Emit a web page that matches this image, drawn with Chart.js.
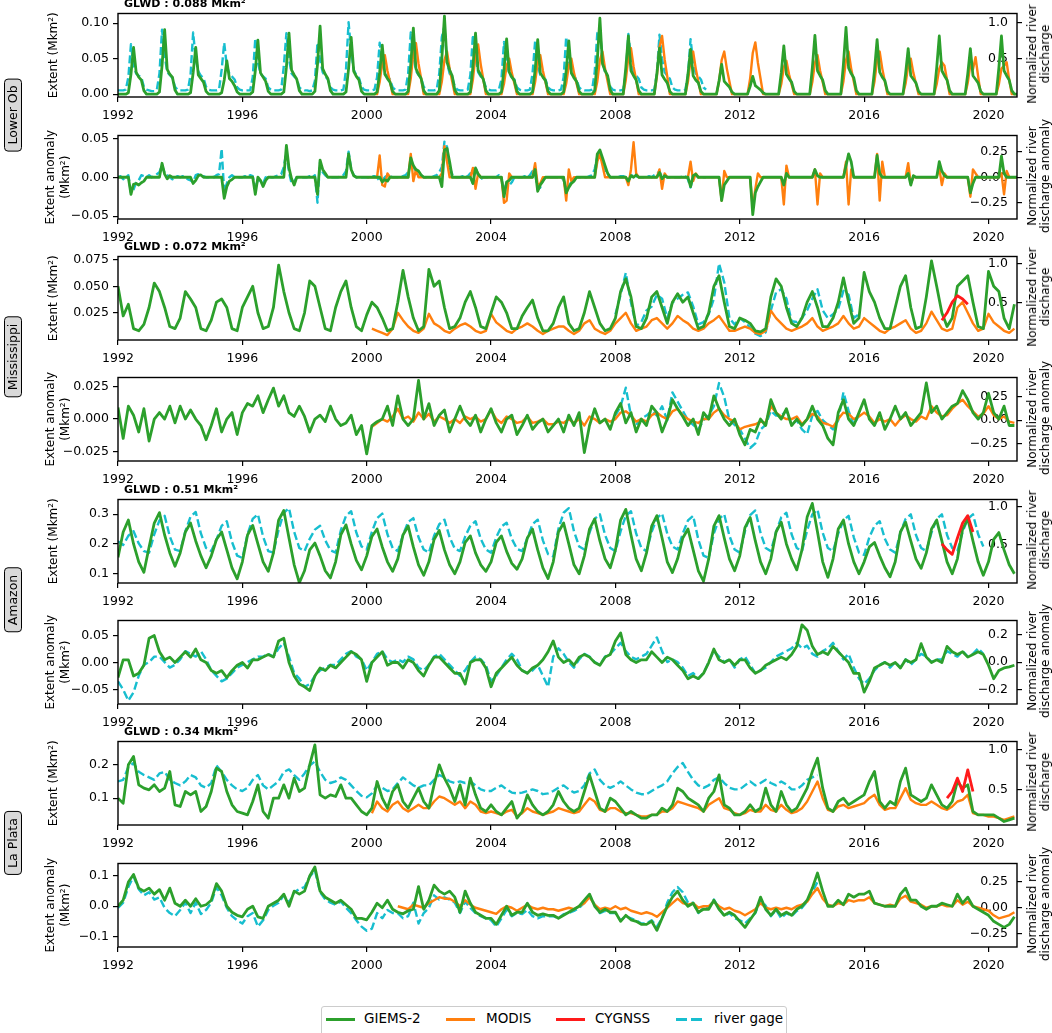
<!DOCTYPE html>
<html>
<head>
<meta charset="utf-8">
<script src="https://cdn.jsdelivr.net/npm/chart.js@4.4.0/dist/chart.umd.min.js"></script>
<style>
  body { margin: 0; background: #fff; width: 1052px; height: 1033px; position: relative; overflow: hidden; font-family: "DejaVu Sans", sans-serif; }
  canvas { position: absolute; left: 0; }
  .glwd { position: absolute; left: 124px; font-size: 11px; font-weight: bold; line-height: 13px; white-space: nowrap; }
  .group { position: absolute; left: 12.5px; transform: translate(-50%, -50%) rotate(-90deg); background: #d9d9d9; border: 1.5px solid #000; border-radius: 4px; padding: 1px 6px; font-size: 12.5px; line-height: 14px; white-space: nowrap; }
  .rtitle { position: absolute; left: 1039px; transform: translate(-50%, -50%) rotate(-90deg); font-size: 12px; line-height: 13px; text-align: center; white-space: nowrap; }
  #legend { position: absolute; left: 321px; top: 1006px; width: 466px; height: 30px; border: 1px solid #ccc; border-radius: 3px; box-sizing: border-box; }
  #legend .ln { position: absolute; top: 11px; width: 29px; height: 3px; }
  #legend .tx { position: absolute; top: 3px; font-size: 13.5px; line-height: 16px; white-space: nowrap; }
</style>
</head>
<body>
<div id="legend">
  <div class="ln" style="left:4px;background:#2ca02c"></div><div class="tx" style="left:42px">GIEMS-2</div>
  <div class="ln" style="left:124px;background:#ff7f0e"></div><div class="tx" style="left:164px">MODIS</div>
  <div class="ln" style="left:234px;background:#ff1a1a"></div><div class="tx" style="left:273px">CYGNSS</div>
  <div class="ln" style="left:354px;width:11px;background:#17becf"></div><div class="ln" style="left:369px;width:11px;background:#17becf"></div><div class="tx" style="left:392px">river gage</div>
</div>
<script>
// x ticks
const yearTicks = [1992, 1996, 2000, 2004, 2008, 2012, 2016, 2020];

// ---------- Lower Ob : extent, monthly (Mkm2) ----------
const obExtGiems = [
  0,0,0,0,0.002,0.028,0.066,0.031,0.024,0.020,0.005,0,
  0,0,0,0,0.003,0.040,0.091,0.035,0.028,0.024,0.006,0,
  0,0,0,0,0.002,0.030,0.066,0.027,0.022,0.017,0.004,0,
  0,0,0,0,0.002,0.020,0.047,0.022,0.018,0.012,0.003,0,
  0,0,0,0,0.003,0.033,0.076,0.030,0.024,0.018,0.004,0,
  0,0,0,0,0.003,0.038,0.086,0.034,0.027,0.021,0.005,0,
  0,0,0,0,0.004,0.042,0.096,0.036,0.028,0.022,0.005,0,
  0,0,0,0,0.003,0.036,0.080,0.032,0.025,0.020,0.004,0,
  0,0,0,0,0.003,0.031,0.069,0.028,0.022,0.017,0.004,0,
  0,0,0,0,0.004,0.042,0.093,0.036,0.028,0.022,0.005,0,
  0,0,0,0,0.005,0.050,0.110,0.045,0.034,0.026,0.006,0,
  0,0,0,0,0.003,0.039,0.086,0.034,0.027,0.021,0.005,0,
  0,0,0,0,0.003,0.035,0.078,0.031,0.024,0.019,0.004,0,
  0,0,0,0,0.003,0.034,0.077,0.030,0.024,0.019,0.004,0,
  0,0,0,0,0.003,0.033,0.075,0.030,0.023,0.018,0.004,0,
  0,0,0,0,0.005,0.048,0.107,0.043,0.033,0.026,0.006,0,
  0,0,0,0,0.037,0.082,0.033,0.026,0.020,0.005,0,0,
  0,0,0,0,0.029,0.065,0.027,0.021,0.016,0.004,0,0,
  0,0,0,0,0.028,0.063,0.026,0.020,0.016,0.004,0,0,
  0,0,0,0,0.019,0.042,0.018,0.014,0.010,0.003,0,0,
  0,0,0,0,0.011,0.025,0.012,0.009,0.006,0.002,0,0,
  0,0,0,0,0.030,0.068,0.028,0.022,0.017,0.004,0,0,
  0,0,0,0,0.037,0.083,0.033,0.026,0.020,0.005,0,0,
  0,0,0,0,0.042,0.094,0.037,0.029,0.023,0.005,0,0,
  0,0,0,0,0.034,0.077,0.031,0.024,0.019,0.004,0,0,
  0,0,0,0,0.029,0.064,0.026,0.021,0.016,0.004,0,0,
  0,0,0,0,0.037,0.082,0.033,0.026,0.020,0.005,0,0,
  0,0,0,0,0.029,0.064,0.026,0.021,0.016,0.004,0,0,
  0,0,0,0,0.037,0.082,0.033,0.026,0.020,0.005,0,0
];
const obExtModis = [ // from Jan 2000
  0,0,0,0,0,0.017,0.044,0.055,0.033,0.017,0,0,
  0,0,0,0,0,0.022,0.058,0.072,0.043,0.022,0,0,
  0,0,0,0,0,0.018,0.048,0.060,0.036,0.018,0,0,
  0,0,0,0,0,0.021,0.056,0.070,0.042,0.021,0,0,
  0,0,0,0,0,0.015,0.040,0.050,0.030,0.015,0,0,
  0,0,0,0,0,0.017,0.044,0.055,0.033,0.017,0,0,
  0,0,0,0,0,0.015,0.040,0.050,0.030,0.015,0,0,
  0,0,0,0,0,0.018,0.048,0.060,0.036,0.018,0,0,
  0,0,0,0,0.020,0.052,0.065,0.039,0.020,0,0,0,
  0,0,0,0,0.025,0.066,0.082,0.049,0.025,0,0,0,
  0,0,0,0,0.018,0.048,0.060,0.036,0.018,0,0,0,
  0,0,0,0,0.018,0.048,0.060,0.036,0.018,0,0,0,
  0,0,0,0,0.022,0.058,0.073,0.044,0.022,0,0,0,
  0,0,0,0,0.014,0.038,0.047,0.028,0.014,0,0,0,
  0,0,0,0,0.017,0.044,0.055,0.033,0.017,0,0,0,
  0,0,0,0,0.018,0.048,0.060,0.036,0.018,0,0,0,
  0,0,0,0,0.018,0.048,0.060,0.036,0.018,0,0,0,
  0,0,0,0,0.015,0.040,0.050,0.030,0.015,0,0,0,
  0,0,0,0,0.014,0.036,0.045,0.040,0.020,0,0,0,
  0,0,0,0,0.016,0.042,0.035,0.052,0.025,0,0,0,
  0,0,0,0,0.014,0.036,0.040,0.045,0.020,0,0,0
];
const obExtGage = [ // normalized, from Jan 1992
  0.07,0.07,0.07,0.08,0.25,0.70,0.42,0.30,0.27,0.25,0.12,0.08,
  0.07,0.06,0.06,0.08,0.30,0.90,0.55,0.32,0.28,0.24,0.12,0.08,
  0.07,0.07,0.07,0.08,0.28,0.86,0.50,0.33,0.27,0.24,0.12,0.08,
  0.07,0.07,0.07,0.08,0.35,0.72,0.40,0.30,0.26,0.22,0.11,0.08,
  0.07,0.07,0.07,0.07,0.25,0.78,0.45,0.30,0.26,0.23,0.11,0.08,
  0.07,0.07,0.07,0.08,0.40,0.85,0.50,0.30,0.26,0.23,0.11,0.08,
  0.07,0.07,0.06,0.07,0.20,0.72,0.48,0.32,0.26,0.22,0.11,0.08,
  0.07,0.07,0.07,0.08,0.35,1.00,0.60,0.35,0.28,0.24,0.12,0.08,
  0.07,0.07,0.07,0.08,0.25,0.72,0.45,0.30,0.26,0.22,0.11,0.08,
  0.07,0.07,0.07,0.08,0.30,0.86,0.55,0.34,0.28,0.24,0.12,0.08,
  0.07,0.07,0.07,0.08,0.30,0.80,0.95,0.45,0.30,0.25,0.12,0.08,
  0.07,0.07,0.07,0.08,0.28,0.83,0.52,0.32,0.26,0.22,0.11,0.08,
  0.07,0.07,0.07,0.08,0.22,0.73,0.45,0.30,0.25,0.22,0.11,0.08,
  0.07,0.07,0.07,0.08,0.30,0.74,0.42,0.28,0.25,0.22,0.11,0.08,
  0.07,0.07,0.07,0.08,0.25,0.80,0.48,0.30,0.26,0.22,0.11,0.08,
  0.07,0.07,0.07,0.08,0.32,0.85,0.90,0.48,0.32,0.25,0.12,0.08,
  0.07,0.07,0.07,0.08,0.30,0.84,0.50,0.32,0.27,0.23,0.11,0.08,
  0.07,0.07,0.07,0.08,0.30,0.83,0.50,0.32,0.27,0.23,0.11,0.08,
  0.07,0.07,0.07,0.08,0.28,0.77,0.45,0.30,0.26,0.22,0.11,0.08
];

// ---------- Lower Ob : anomaly, monthly ----------
const obAnomGiems = [
  0,0,0,0,0,-0.022,-0.009,-0.008,-0.010,-0.007,-0.005,0,
  0,0,0,0,0,0.018,0.004,-0.002,0.002,0,0,0,
  0,0,0,0,0,-0.008,-0.004,0.002,0.003,0,0,0,
  0,0,0,0,0,-0.027,-0.012,-0.005,-0.003,0,0,0,
  0,0,0,0,0,-0.022,0,-0.004,-0.012,-0.004,0,0,
  0,0,0,0,0,0.041,0.012,-0.002,-0.010,0,0,0,
  0,0,0,0,0,-0.022,0.022,0.010,0.005,0,0,0,
  0,0,0,0,0,0.030,0.010,0.002,0,0,0,0,
  0,0,0,0,0,0,-0.006,-0.003,-0.005,0,0,0,
  0,0,0,0,0,0.025,0.015,0.010,0.008,0.003,0,0,
  0,0,0,0,0,-0.012,0.035,0.037,0.020,0,0,0,
  0,0,0,0,0,-0.008,0.012,0.004,0,0,0,0,
  0,0,0,0,0,-0.025,-0.006,-0.004,0,0,0,0,
  0,0,0,0,0,0.010,-0.018,-0.010,-0.005,0,0,0,
  0,0,0,0,0,-0.020,-0.013,-0.008,-0.005,0,0,0,
  0,0,0,0,0,0.030,0.035,0.025,0.015,0.005,0,0,
  0,0,0,0,0,-0.005,0.002,0,0.003,0,0,0,
  0,0,0,0,0,0.006,-0.002,0.002,0,0,0,0,
  0,0,0,0,0,-0.012,0.002,0.004,0,0,0,0,
  0,0,0,0,0,-0.030,-0.010,-0.005,0,0,0,0,
  0,0,0,0,0,-0.048,-0.020,-0.012,-0.006,0,0,0,
  0,0,0,0,0,-0.010,0.005,0,0,0,0,0,
  0,0,0,0,0,0.010,0.002,0,0,0,0,0,
  0,0,0,0,0,0.015,0.030,0.020,0,0,0,0,
  0,0,0,0,0,0.028,0.005,0,0,0,0,0,
  0,0,0,0,0,0.005,-0.010,0.002,0,0,0,0,
  0,0,0,0,0,0.020,0.008,0.002,0,0,0,0,
  0,0,0,0,0,-0.020,-0.008,0,0,0,0,0,
  0,0,0,0,0,0.027,0.005,0,0,0,0,0
];
const obAnomModis = [ // from Jan 2000
  0,0,0,0,0,0.028,-0.010,-0.012,0.005,0,0,0,
  0,0,0,0,0,0.030,-0.005,0.010,0,0,0,0,
  0,0,0,0,0,0.005,0.040,0.020,0,0,0,0,
  0,0,0,0,0,0.012,-0.015,0.005,0,0,0,0,
  0,0,0,0,0,-0.033,-0.030,0.005,0,0,0,0,
  0,0,0,0,0,0.018,-0.010,-0.008,0,0,0,0,
  0,0,0,0,0,-0.030,0.010,-0.005,0,0,0,0,
  0,0,0,0,0,0.020,0.030,0.015,0,0,0,0,
  0,0,0,0,0,-0.010,0.010,0.045,0.005,0,0,0,
  0,0,0,0,0,0.010,-0.015,0.005,0,0,0,0,
  0,0,0,0,0,0.020,-0.005,0.005,0,0,0,0,
  0,0,0,0,0,-0.030,0.008,0,0,0,0,0,
  0,0,0,0,0,-0.040,-0.015,0.005,0,0,0,0,
  0,0,0,0,0,-0.035,0.015,0,0,0,0,0,
  0,0,0,0,0,0.010,-0.035,0.005,0,0,0,0,
  0,0,0,0,0,0.020,-0.035,0.010,0,0,0,0,
  0,0,0,0,0,0.030,-0.030,0.020,0,0,0,0,
  0,0,0,0,0,0.018,-0.008,0,0,0,0,0,
  0,0,0,0,0,0.012,-0.010,0.005,0,0,0,0,
  0,0,0,0,0,-0.025,0.010,0.005,0,0,0,0,
  0,0,0,0,0,0.005,-0.022,0.008,0,0,0,0
];
const obAnomGage = [ // from Jan 1992
  0,0.01,-0.02,0,0.02,-0.15,-0.12,-0.05,-0.03,0.02,0.01,0,
  0.02,0,0.01,0.03,0.05,0.12,0.04,0.02,0,-0.02,0,0.01,
  0,0.01,0,-0.02,-0.03,-0.05,0.02,0.03,0,0.01,0,0,
  0.01,0,0.02,0.03,0.28,-0.15,-0.06,0,0.02,0,0,0,
  0,0.01,0,0.02,0.01,-0.12,-0.02,-0.04,-0.06,0,0.01,0,
  0,0.01,0.02,0.03,0.10,0.25,0.05,-0.06,-0.04,0,0,0,
  0,0,0.01,0,0.02,-0.25,0.15,0.05,0.02,0,0,0,
  0,0,0.01,0.02,0.06,0.25,0.08,0.02,0,0,0,0,
  0,0,0.01,0.01,0,-0.04,-0.03,0,0.02,0.01,0,0,
  0,0,0.01,0.02,0.05,0.15,0.10,0.06,0.03,0.02,0,0,
  0,0,0.01,0.02,0.05,0.10,0.35,0.30,0.10,0.03,0,0,
  0,0.01,0,0.01,0.04,-0.06,0.10,0.02,-0.02,0,0,0,
  0,0,0,0.02,-0.02,-0.12,-0.06,-0.08,-0.05,0,0,0,
  0,0.01,0,0.02,0.06,0.04,-0.12,-0.10,-0.03,0,0,0,
  0,0,0,0.01,-0.03,-0.10,-0.08,-0.05,-0.02,0,0,0,
  0,0,0.01,0.02,0.08,0.20,0.25,0.15,0.08,0.03,0,0,
  0,0,0.01,0.01,0,-0.03,0.02,0.01,0.01,0,0,0,
  0,0.01,0,0.02,0.03,0.06,0,0.02,0,0,0,0,
  0,0,0.01,0.01,-0.02,-0.10,0.01,0.02,0,0,0,0
];

// ---------- Mississippi : extent, every 2 months (Jan, Mar, May, Jul, Sep, Nov) ----------
const msExtGiems = [
  0.050,0.022,0.033,0.010,0.008,0.014,
  0.030,0.053,0.045,0.030,0.012,0.010,
  0.020,0.045,0.038,0.030,0.010,0.008,
  0.018,0.035,0.038,0.030,0.010,0.008,
  0.030,0.040,0.050,0.025,0.010,0.012,
  0.030,0.070,0.045,0.025,0.010,0.008,
  0.025,0.055,0.050,0.030,0.010,0.008,
  0.030,0.045,0.055,0.030,0.012,0.008,
  0.023,0.035,0.030,0.020,0.008,0.010,
  0.035,0.065,0.040,0.020,0.008,0.012,
  0.066,0.050,0.055,0.030,0.010,0.012,
  0.020,0.035,0.045,0.030,0.012,0.010,
  0.025,0.040,0.035,0.025,0.010,0.010,
  0.022,0.030,0.037,0.020,0.008,0.008,
  0.015,0.030,0.040,0.015,0.008,0.010,
  0.025,0.045,0.030,0.015,0.008,0.010,
  0.020,0.045,0.057,0.040,0.012,0.010,
  0.020,0.040,0.045,0.030,0.015,0.035,
  0.043,0.035,0.040,0.025,0.010,0.012,
  0.025,0.050,0.060,0.035,0.012,0.010,
  0.020,0.018,0.015,0.008,0.007,0.010,
  0.040,0.057,0.050,0.030,0.015,0.012,
  0.020,0.035,0.045,0.030,0.012,0.012,
  0.020,0.035,0.058,0.035,0.015,0.020,
  0.063,0.045,0.035,0.020,0.010,0.010,
  0.030,0.050,0.060,0.030,0.010,0.012,
  0.040,0.074,0.050,0.025,0.012,0.020,
  0.050,0.055,0.060,0.035,0.012,0.010,
  0.064,0.050,0.045,0.020,0.010,0.033
];
const msExtModis = [ // from Mar 2000
  0.010,0.008,0.006,0.004,0.010,
  0.025,0.018,0.012,0.008,0.006,0.010,
  0.024,0.015,0.012,0.008,0.006,0.010,
  0.013,0.015,0.012,0.008,0.006,0.008,
  0.024,0.016,0.012,0.008,0.006,0.010,
  0.012,0.015,0.012,0.008,0.005,0.008,
  0.010,0.012,0.012,0.008,0.005,0.008,
  0.015,0.018,0.010,0.007,0.005,0.008,
  0.015,0.020,0.025,0.015,0.008,0.010,
  0.012,0.018,0.020,0.015,0.010,0.015,
  0.022,0.018,0.015,0.010,0.008,0.010,
  0.015,0.018,0.022,0.015,0.008,0.008,
  0.010,0.012,0.010,0.006,0.005,0.008,
  0.027,0.020,0.015,0.010,0.008,0.010,
  0.012,0.015,0.020,0.012,0.008,0.010,
  0.012,0.015,0.022,0.015,0.010,0.012,
  0.020,0.016,0.012,0.008,0.006,0.010,
  0.012,0.015,0.018,0.010,0.006,0.008,
  0.015,0.026,0.018,0.010,0.008,0.010,
  0.030,0.035,0.025,0.015,0.008,0.010,
  0.024,0.016,0.012,0.008,0.006,0.010
];
const msExtCygnss = [0.018, 0.025, 0.035, 0.041, 0.038, 0.033]; // from Jul 2018
const msExtGage = [ // from Jan 2008
  0.35,0.60,0.88,0.50,0.20,0.25,
  0.40,0.45,0.60,0.55,0.30,0.50,
  0.55,0.60,0.63,0.45,0.22,0.25,
  0.35,0.55,1.00,0.76,0.30,0.22,
  0.30,0.25,0.18,0.10,0.07,0.12,
  0.40,0.63,0.67,0.55,0.26,0.25,
  0.30,0.40,0.55,0.67,0.40,0.30,
  0.35,0.42,0.65,0.60,0.30,0.35
];

// ---------- Mississippi : anomaly ----------
const msAnomGiems = [
  0.009,-0.015,0.010,0.003,-0.010,0.008,
  -0.017,0.000,0.005,0.000,0.010,-0.003,
  0.010,0.000,0.007,0.000,-0.005,-0.016,
  -0.005,0.008,-0.010,0.000,0.005,-0.012,
  0.005,0.012,0.010,0.018,0.005,0.015,
  0.024,0.010,0.018,0.005,0.002,0.010,
  0.002,-0.010,0.000,0.003,-0.002,0.010,
  0.000,-0.005,-0.003,0.003,-0.012,-0.005,
  -0.027,-0.005,-0.002,0.000,0.010,-0.005,
  0.018,0.000,-0.005,0.000,0.030,0.000,
  0.012,-0.005,0.003,0.007,-0.010,0.000,
  0.010,0.000,-0.005,0.003,-0.010,0.000,
  0.008,-0.003,-0.010,0.000,0.003,-0.012,
  -0.005,0.003,-0.008,-0.003,0.000,-0.010,
  -0.005,0.000,-0.010,0.003,-0.005,0.005,
  -0.026,-0.005,0.008,-0.003,0.000,-0.008,
  0.005,0.012,-0.003,0.005,-0.010,0.000,
  -0.005,0.010,0.005,-0.010,0.000,0.015,
  0.008,0.002,-0.005,0.000,-0.012,0.005,
  0.000,0.018,0.008,0.000,-0.005,0.000,
  -0.012,-0.020,-0.008,-0.010,0.000,-0.005,
  0.015,0.005,0.000,0.008,-0.005,0.000,
  -0.005,0.000,0.010,0.000,-0.005,-0.015,
  -0.020,0.005,0.015,0.000,-0.005,0.005,
  0.015,0.000,-0.005,0.005,-0.008,0.000,
  0.010,0.000,0.005,-0.005,0.000,0.005,
  0.028,0.005,0.010,0.000,0.005,0.010,
  0.012,0.022,0.015,0.005,0.000,0.005,
  0.020,0.005,0.000,0.010,-0.005,-0.005
];
const msAnomModis = [ // from Mar 2000
  -0.006,-0.003,0.000,-0.002,0.002,
  0.008,0.000,0.002,-0.002,0.005,0.000,
  0.004,-0.002,0.002,0.000,-0.003,0.000,
  -0.003,0.002,0.000,0.002,-0.002,0.000,
  0.007,0.000,-0.003,0.002,0.000,-0.003,
  -0.002,0.002,-0.003,-0.002,0.000,-0.004,
  -0.004,-0.002,-0.003,0.000,-0.003,0.000,
  -0.005,0.002,0.000,-0.003,0.000,-0.002,
  0.000,0.005,0.006,0.003,-0.002,0.000,
  -0.002,0.003,0.005,0.002,0.000,0.006,
  0.008,0.003,0.000,-0.002,-0.003,0.000,
  0.000,0.005,0.008,0.003,0.000,-0.002,
  -0.008,-0.006,-0.005,-0.004,-0.002,-0.003,
  0.010,0.005,0.002,0.000,0.000,0.002,
  -0.004,0.000,0.004,0.002,-0.003,-0.004,
  -0.006,0.000,0.005,0.004,0.000,0.002,
  0.005,0.002,-0.003,0.000,-0.002,0.000,
  -0.005,0.000,0.003,0.000,-0.002,0.002,
  0.000,0.010,0.005,0.002,0.003,0.008,
  0.012,0.015,0.010,0.006,0.002,0.004,
  0.010,0.003,0.000,0.002,-0.002,-0.003
];
const msAnomGage = [ // from Jan 2008
  0.05,0.15,0.35,0.05,-0.05,0.02,
  0.05,0.10,0.05,0.15,0.00,0.30,
  0.20,0.10,0.00,-0.05,-0.10,0.00,
  0.05,0.15,0.40,0.25,0.00,-0.05,
  -0.10,-0.20,-0.30,-0.25,-0.10,-0.05,
  0.10,0.05,0.05,0.10,-0.05,0.00,
  -0.10,-0.15,0.05,0.10,0.00,-0.05,
  -0.10,0.00,0.30,0.10,-0.05,0.05
];

// ---------- Amazon : extent ----------
const amExtGiems = [
  0.155,0.240,0.280,0.200,0.140,0.105,
  0.190,0.270,0.305,0.230,0.170,0.125,
  0.170,0.240,0.270,0.210,0.160,0.120,
  0.160,0.215,0.240,0.180,0.120,0.083,
  0.140,0.230,0.262,0.200,0.140,0.108,
  0.170,0.280,0.312,0.220,0.130,0.070,
  0.110,0.180,0.203,0.160,0.110,0.086,
  0.140,0.230,0.264,0.200,0.145,0.113,
  0.160,0.225,0.250,0.190,0.140,0.108,
  0.150,0.230,0.260,0.190,0.130,0.095,
  0.140,0.215,0.245,0.180,0.130,0.100,
  0.140,0.205,0.227,0.170,0.130,0.108,
  0.140,0.205,0.227,0.175,0.135,0.115,
  0.150,0.220,0.249,0.180,0.120,0.084,
  0.140,0.240,0.270,0.200,0.130,0.100,
  0.160,0.250,0.284,0.210,0.150,0.120,
  0.180,0.280,0.316,0.230,0.150,0.110,
  0.170,0.260,0.295,0.220,0.140,0.104,
  0.150,0.220,0.250,0.180,0.110,0.075,
  0.150,0.260,0.295,0.220,0.150,0.110,
  0.160,0.255,0.289,0.210,0.140,0.100,
  0.150,0.240,0.273,0.200,0.150,0.113,
  0.180,0.290,0.336,0.240,0.140,0.088,
  0.150,0.250,0.280,0.200,0.140,0.100,
  0.140,0.190,0.205,0.160,0.120,0.090,
  0.140,0.240,0.273,0.210,0.150,0.118,
  0.170,0.250,0.280,0.210,0.140,0.100,
  0.150,0.250,0.285,0.210,0.140,0.095,
  0.140,0.215,0.238,0.180,0.130,0.100
];
const amExtCygnss = [0.200, 0.180, 0.165, 0.220, 0.270, 0.295, 0.240]; // from Jul 2018
const amExtGage = [ // from Jan 1992
  0.55,0.50,0.62,0.68,0.52,0.42,
  0.40,0.64,0.82,0.88,0.61,0.44,
  0.42,0.68,0.87,0.93,0.65,0.46,
  0.42,0.57,0.75,0.81,0.54,0.36,
  0.33,0.64,0.84,0.90,0.61,0.42,
  0.40,0.70,0.92,0.98,0.67,0.46,
  0.42,0.58,0.70,0.75,0.56,0.43,
  0.40,0.69,0.88,0.94,0.66,0.48,
  0.44,0.67,0.85,0.91,0.64,0.46,
  0.42,0.63,0.80,0.85,0.60,0.44,
  0.40,0.62,0.77,0.83,0.60,0.45,
  0.42,0.61,0.75,0.81,0.58,0.44,
  0.40,0.60,0.74,0.79,0.58,0.45,
  0.42,0.59,0.77,0.83,0.56,0.38,
  0.35,0.71,0.92,0.98,0.68,0.48,
  0.44,0.66,0.84,0.90,0.63,0.46,
  0.42,0.68,0.88,0.94,0.65,0.46,
  0.42,0.67,0.85,0.91,0.65,0.48,
  0.44,0.65,0.82,0.88,0.57,0.36,
  0.33,0.65,0.84,0.90,0.62,0.44,
  0.40,0.68,0.89,0.95,0.66,0.46,
  0.42,0.67,0.86,0.92,0.64,0.46,
  0.42,0.69,0.90,0.96,0.66,0.46,
  0.42,0.65,0.82,0.88,0.60,0.40,
  0.37,0.60,0.75,0.81,0.58,0.44,
  0.40,0.66,0.84,0.90,0.63,0.46,
  0.42,0.66,0.84,0.90,0.63,0.46,
  0.42,0.67,0.84,0.90,0.64,0.48
];

// ---------- Amazon : anomaly ----------
const amAnomGiems = [
  -0.028,0.005,0.005,-0.025,-0.020,-0.005,
  0.045,0.050,0.020,0.005,0.010,0.000,
  0.010,0.020,0.010,0.025,0.005,0.000,
  -0.015,-0.020,-0.015,-0.028,-0.015,-0.005,
  0.000,-0.010,0.005,0.005,0.010,0.015,
  0.010,0.040,0.045,0.000,-0.025,-0.040,
  -0.045,-0.052,-0.025,-0.010,-0.015,-0.005,
  -0.010,0.000,0.010,0.020,0.015,0.005,
  -0.035,0.000,0.010,0.020,-0.005,0.000,
  0.000,-0.010,0.005,0.000,-0.015,-0.025,
  -0.005,0.010,0.010,0.000,-0.010,-0.020,
  -0.020,-0.040,0.000,0.005,0.005,-0.010,
  -0.045,-0.020,-0.010,0.000,0.010,-0.005,
  -0.015,-0.020,-0.010,-0.005,0.005,0.020,
  0.040,0.010,0.000,0.005,-0.005,0.010,
  0.015,0.010,0.000,-0.005,0.010,0.015,
  0.040,0.055,0.015,0.005,0.000,0.005,
  0.005,0.020,0.010,0.000,0.010,0.005,
  -0.005,-0.015,-0.030,-0.025,-0.030,-0.020,
  0.000,0.025,0.005,0.000,0.005,-0.005,
  0.005,0.005,-0.010,-0.020,-0.015,-0.005,
  0.000,0.005,0.010,0.005,0.015,0.030,
  0.070,0.060,0.030,0.015,0.020,0.015,
  0.030,0.020,0.010,0.000,-0.020,-0.020,
  -0.055,-0.035,-0.010,-0.005,0.000,-0.005,
  0.000,-0.010,0.005,0.000,0.005,0.035,
  0.010,0.000,0.005,0.000,0.030,0.020,
  0.015,0.020,0.010,0.015,0.020,0.015,
  -0.005,-0.030,-0.015,-0.010,-0.008,-0.005
];
const amAnomGage = [ // from Jan 1992
  -0.14,-0.20,-0.28,-0.22,-0.10,-0.02,
  0.00,0.04,0.04,0.00,-0.04,-0.02,
  0.02,0.08,0.06,0.04,0.08,0.02,
  -0.06,-0.10,-0.14,-0.12,-0.08,-0.04,
  -0.02,0.00,0.02,0.04,0.04,0.06,
  0.04,0.10,0.14,0.04,-0.08,-0.12,
  -0.18,-0.16,-0.10,-0.06,-0.04,-0.02,
  -0.02,0.02,0.06,0.08,0.04,0.02,
  -0.06,0.00,0.06,0.08,0.02,0.00,
  0.02,0.00,0.04,0.02,-0.04,-0.06,
  -0.02,0.04,0.06,0.02,-0.02,-0.06,
  -0.10,-0.06,0.00,0.04,0.02,-0.02,
  -0.14,-0.10,-0.04,0.02,0.06,0.02,
  -0.06,-0.08,-0.06,-0.02,-0.10,-0.18,
  0.04,0.10,0.06,0.00,-0.04,0.02,
  0.06,0.04,0.00,-0.02,0.04,0.06,
  0.10,0.14,0.08,0.04,0.02,0.04,
  0.06,0.12,0.18,0.08,0.00,0.02,
  0.00,-0.04,-0.10,-0.08,-0.12,-0.08,
  0.00,0.08,0.04,0.00,0.02,-0.04,
  0.02,0.04,-0.02,-0.08,-0.06,-0.04,
  0.00,0.04,0.06,0.08,0.10,0.14,
  0.10,0.12,0.06,0.04,0.08,0.10,
  0.14,0.08,0.02,0.06,-0.04,-0.12,
  -0.16,-0.12,-0.06,-0.02,0.00,-0.04,
  0.00,-0.04,0.02,-0.02,0.02,0.06,
  0.04,0.00,0.02,0.02,0.08,0.06,
  0.04,0.08,0.04,0.06,0.10,0.06
];

// ---------- La Plata : extent ----------
const lpExtGiems = [
  0.100,0.085,0.200,0.225,0.140,0.130,
  0.125,0.140,0.120,0.130,0.180,0.080,
  0.075,0.120,0.110,0.120,0.060,0.075,
  0.120,0.190,0.180,0.120,0.080,0.060,
  0.055,0.050,0.090,0.140,0.060,0.040,
  0.100,0.100,0.140,0.100,0.160,0.120,
  0.130,0.200,0.260,0.110,0.100,0.110,
  0.105,0.140,0.100,0.100,0.080,0.060,
  0.050,0.070,0.150,0.100,0.070,0.120,
  0.140,0.090,0.070,0.100,0.130,0.090,
  0.070,0.140,0.200,0.160,0.130,0.090,
  0.140,0.080,0.160,0.110,0.070,0.060,
  0.080,0.060,0.050,0.070,0.090,0.040,
  0.060,0.110,0.080,0.060,0.050,0.060,
  0.080,0.120,0.090,0.070,0.060,0.070,
  0.120,0.170,0.120,0.070,0.060,0.100,
  0.090,0.070,0.050,0.060,0.050,0.040,
  0.040,0.050,0.050,0.070,0.060,0.080,
  0.130,0.120,0.100,0.090,0.080,0.060,
  0.100,0.120,0.170,0.080,0.070,0.050,
  0.050,0.060,0.080,0.060,0.070,0.130,
  0.080,0.060,0.120,0.080,0.060,0.070,
  0.100,0.130,0.180,0.220,0.130,0.070,
  0.060,0.090,0.100,0.080,0.090,0.100,
  0.110,0.150,0.180,0.090,0.070,0.090,
  0.080,0.150,0.190,0.110,0.100,0.090,
  0.100,0.140,0.110,0.080,0.070,0.090,
  0.150,0.130,0.140,0.060,0.050,0.050,
  0.050,0.050,0.040,0.030,0.035,0.040
];
const lpExtModis = [ // from Mar 2000
  0.055,0.090,0.070,0.060,0.080,
  0.090,0.070,0.060,0.070,0.080,0.070,
  0.070,0.090,0.105,0.100,0.090,0.080,
  0.090,0.070,0.090,0.080,0.060,0.055,
  0.060,0.055,0.050,0.060,0.065,0.045,
  0.055,0.070,0.060,0.055,0.050,0.055,
  0.060,0.070,0.065,0.060,0.055,0.060,
  0.080,0.100,0.090,0.065,0.060,0.070,
  0.070,0.060,0.055,0.055,0.050,0.045,
  0.045,0.050,0.050,0.060,0.060,0.070,
  0.090,0.085,0.080,0.075,0.070,0.060,
  0.080,0.090,0.100,0.070,0.065,0.055,
  0.050,0.055,0.065,0.060,0.060,0.080,
  0.065,0.060,0.080,0.065,0.055,0.060,
  0.070,0.090,0.120,0.150,0.100,0.065,
  0.060,0.075,0.080,0.070,0.075,0.080,
  0.085,0.100,0.110,0.080,0.065,0.070,
  0.070,0.100,0.130,0.095,0.085,0.080,
  0.080,0.090,0.080,0.070,0.065,0.075,
  0.090,0.095,0.110,0.055,0.050,0.050,
  0.045,0.045,0.040,0.035,0.040,0.045
];
const lpExtCygnss = [0.100, 0.120, 0.160, 0.120, 0.185, 0.120]; // from Sep 2018
const lpExtGage = [ // from Jan 1992
  0.60,0.62,0.78,0.83,0.72,0.68,
  0.65,0.62,0.70,0.72,0.62,0.58,
  0.55,0.60,0.68,0.65,0.55,0.52,
  0.58,0.80,0.72,0.62,0.55,0.50,
  0.48,0.52,0.62,0.68,0.55,0.50,
  0.55,0.60,0.72,0.75,0.68,0.62,
  0.70,0.80,0.85,0.72,0.62,0.58,
  0.60,0.65,0.62,0.55,0.48,0.42,
  0.40,0.45,0.55,0.52,0.48,0.50,
  0.58,0.65,0.60,0.55,0.52,0.55,
  0.55,0.62,0.68,0.65,0.60,0.58,
  0.60,0.58,0.60,0.55,0.50,0.48,
  0.48,0.52,0.55,0.50,0.46,0.45,
  0.46,0.48,0.50,0.48,0.44,0.45,
  0.48,0.52,0.55,0.50,0.46,0.48,
  0.55,0.70,0.75,0.62,0.55,0.52,
  0.55,0.60,0.55,0.50,0.46,0.44,
  0.44,0.48,0.52,0.55,0.60,0.70,
  0.78,0.83,0.72,0.62,0.55,0.52,
  0.55,0.62,0.65,0.58,0.52,0.50,
  0.50,0.55,0.60,0.55,0.58,0.62,
  0.58,0.55,0.60,0.56,0.50,0.50,
  0.55,0.62,0.65,0.68
];

// ---------- La Plata : anomaly ----------
const lpAnomGiems = [
  0.000,0.020,0.080,0.105,0.060,0.050,
  0.060,0.040,0.055,0.020,0.060,0.010,
  0.000,0.020,0.000,0.025,0.000,0.005,
  0.020,0.075,0.050,0.000,-0.020,-0.030,
  -0.035,-0.010,0.000,-0.035,-0.040,0.000,
  0.010,0.020,0.040,0.000,0.050,0.040,
  0.050,0.100,0.130,0.050,0.030,0.020,
  0.010,0.020,0.005,-0.010,-0.040,-0.040,
  -0.045,-0.020,0.010,-0.005,0.020,-0.010,
  -0.020,-0.025,-0.015,-0.010,0.065,-0.010,
  0.020,0.070,0.050,0.040,0.050,0.030,
  -0.020,0.050,0.010,-0.020,-0.030,-0.040,
  -0.040,-0.060,-0.030,0.000,-0.030,-0.020,
  -0.020,0.010,-0.020,-0.030,-0.025,-0.030,
  -0.030,-0.040,-0.030,-0.020,-0.010,0.000,
  0.020,0.040,0.000,-0.020,-0.010,-0.020,
  -0.020,-0.050,-0.030,-0.045,-0.050,-0.060,
  -0.060,-0.050,-0.080,-0.040,0.000,0.030,
  0.050,0.020,0.000,0.010,-0.020,-0.010,
  -0.010,0.020,-0.010,-0.030,-0.020,-0.030,
  -0.050,-0.070,-0.045,-0.020,0.030,-0.010,
  -0.030,-0.010,-0.030,-0.020,-0.030,-0.010,
  0.000,0.020,0.060,0.110,0.050,0.000,
  0.000,0.020,0.005,0.040,0.030,0.040,
  0.040,0.050,0.010,0.005,0.000,0.000,
  0.000,0.040,0.060,0.020,0.020,0.000,
  -0.010,0.000,0.000,0.010,0.005,0.000,
  0.040,0.010,0.030,0.000,-0.010,-0.020,
  -0.030,-0.050,-0.060,-0.070,-0.060,-0.035
];
const lpAnomModis = [ // from Jan 2001
  0.000,-0.005,-0.010,0.005,0.000,-0.005,
  0.010,0.020,0.030,0.025,0.025,0.015,
  0.000,0.020,0.005,-0.005,-0.010,-0.015,
  -0.020,-0.025,-0.010,0.000,-0.005,-0.015,
  -0.005,0.005,-0.005,-0.010,-0.005,-0.010,
  -0.010,-0.015,-0.010,-0.005,-0.010,0.000,
  0.010,0.030,0.005,-0.010,-0.005,-0.010,
  0.000,-0.010,-0.005,-0.015,-0.020,-0.025,
  -0.020,-0.025,-0.035,-0.020,-0.005,0.010,
  0.025,0.010,0.005,0.010,-0.005,0.000,
  0.000,0.015,0.000,-0.010,-0.005,-0.015,
  -0.020,-0.030,-0.020,-0.010,0.010,-0.005,
  -0.010,-0.005,-0.010,-0.005,-0.010,0.000,
  0.005,0.015,0.040,0.060,0.025,0.005,
  0.000,0.010,0.005,0.020,0.015,0.020,
  0.020,0.030,0.010,0.005,0.000,0.005,
  0.000,0.025,0.035,0.015,0.010,0.005,
  -0.005,0.000,0.000,0.005,0.000,0.000,
  0.020,0.005,0.015,0.000,-0.005,-0.010,
  -0.015,-0.030,-0.040,-0.035,-0.030,-0.020
];
const lpAnomGage = [ // from Jan 1992
  0.00,0.05,0.20,0.30,0.18,0.12,
  0.15,0.08,0.10,0.00,-0.05,-0.08,
  -0.02,0.05,-0.05,0.05,-0.06,-0.02,
  0.05,0.20,0.12,0.00,-0.08,-0.12,
  -0.15,-0.08,-0.05,-0.18,-0.12,-0.02,
  0.02,0.05,0.12,0.05,0.15,0.18,
  0.20,0.30,0.36,0.15,0.08,0.05,
  0.03,0.06,0.00,-0.05,-0.12,-0.18,
  -0.22,-0.20,-0.05,-0.10,-0.02,-0.05,
  -0.05,-0.10,-0.08,0.05,-0.15,-0.05,
  0.00,0.12,0.08,0.10,0.08,0.05,
  -0.05,0.06,0.00,-0.05,-0.08,-0.10,
  -0.12,-0.18,-0.10,-0.02,-0.08,-0.05,
  -0.06,-0.02,-0.08,-0.10,-0.08,-0.08,
  -0.08,-0.10,-0.06,-0.05,-0.03,0.00,
  0.05,0.12,0.03,-0.05,-0.03,-0.05,
  -0.05,-0.12,-0.08,-0.10,-0.12,-0.15,
  -0.15,-0.12,-0.18,-0.10,0.05,0.15,
  0.20,0.15,0.05,0.05,-0.05,0.00,
  0.00,0.08,0.00,-0.08,-0.05,-0.10,
  -0.12,-0.15,-0.10,-0.05,0.08,0.02,
  -0.08,-0.02,-0.10,-0.05,-0.08,-0.03,
  0.00,0.06,0.15,0.25
];

// ---------- drawing ----------
Chart.defaults.font.family = '"DejaVu Sans", sans-serif';
Chart.defaults.color = '#000';

const monthly = (t0, vals) => vals.map((y, i) => ({ x: t0 + i / 12, y }));
const bimonthly = (t0, vals) => vals.map((y, i) => ({ x: t0 + i / 6, y }));

const look = {
  giems: { borderColor: '#2ca02c', borderWidth: 2.8 },
  modis: { borderColor: '#ff7f0e', borderWidth: 2.4 },
  cygnss: { borderColor: '#ff1a1a', borderWidth: 2.8 },
  gage: { borderColor: '#17becf', borderWidth: 2.4, borderDash: [8, 3.5] }
};
function ds(kind, data, axis) {
  return Object.assign({ data, yAxisID: axis || 'y', pointRadius: 0, fill: false }, look[kind]);
}

const extTitle = 'Extent (Mkm²)';
const anomTitle = ['Extent anomaly', '(Mkm²)'];
const extRight = ['Normalized river', 'discharge'];
const anomRight = ['Normalized river', 'discharge anomaly'];

const panels = [
  { top: 10, pad: 43, title: extTitle, right: extRight, glwd: 'GLWD : 0.088 Mkm²',
    y: [-0.004, 0.1137], yTicks: [0, 0.05, 0.1], yDec: 2, r: [-0.02, 1.12], rTicks: [0.5, 1.0], rDec: 1,
    sets: [ds('giems', monthly(1992, obExtGiems)), ds('modis', monthly(2000, obExtModis)), ds('gage', monthly(1992, obExtGage), 'y2')] },
  { top: 132, pad: 40, title: anomTitle, right: anomRight,
    y: [-0.0537, 0.0537], yTicks: [-0.05, 0, 0.05], yDec: 2, r: [-0.41, 0.41], rTicks: [-0.25, 0, 0.25], rDec: 2,
    sets: [ds('giems', monthly(1992, obAnomGiems)), ds('modis', monthly(2000, obAnomModis)), ds('gage', monthly(1992, obAnomGage), 'y2')] },
  { top: 253, pad: 43, title: extTitle, right: extRight, glwd: 'GLWD : 0.072 Mkm²',
    y: [-0.0007, 0.0781], yTicks: [0.025, 0.05, 0.075], yDec: 3, r: [0.02, 1.09], rTicks: [0.5, 1.0], rDec: 1,
    sets: [ds('cygnss', bimonthly(2018.5, msExtCygnss)), ds('giems', bimonthly(1992, msExtGiems)), ds('modis', bimonthly(2000 + 1 / 6, msExtModis)), ds('gage', bimonthly(2008, msExtGage), 'y2')] },
  { top: 374, pad: 40, title: anomTitle, right: anomRight,
    y: [-0.0325, 0.0322], yTicks: [-0.025, 0, 0.025], yDec: 3, r: [-0.44, 0.46], rTicks: [-0.25, 0, 0.25], rDec: 2,
    sets: [ds('giems', bimonthly(1992, msAnomGiems)), ds('modis', bimonthly(2000 + 1 / 6, msAnomModis)), ds('gage', bimonthly(2008, msAnomGage), 'y2')] },
  { top: 496, pad: 43, title: extTitle, right: extRight, glwd: 'GLWD : 0.51 Mkm²',
    y: [0.069, 0.349], yTicks: [0.1, 0.2, 0.3], yDec: 1, r: [0.004, 1.093], rTicks: [0.5, 1.0], rDec: 1,
    sets: [ds('cygnss', bimonthly(2018.5, amExtCygnss)), ds('giems', bimonthly(1992, amExtGiems)), ds('gage', bimonthly(1992, amExtGage), 'y2')] },
  { top: 617, pad: 40, title: anomTitle, right: anomRight,
    y: [-0.077, 0.078], yTicks: [-0.05, 0, 0.05], yDec: 2, r: [-0.305, 0.303], rTicks: [-0.2, 0, 0.2], rDec: 1,
    sets: [ds('giems', bimonthly(1992, amAnomGiems)), ds('gage', bimonthly(1992, amAnomGage), 'y2')] },
  { top: 738, pad: 43, title: extTitle, right: extRight, glwd: 'GLWD : 0.34 Mkm²',
    y: [0.0195, 0.27], yTicks: [0.1, 0.2], yDec: 1, r: [0.054, 1.10], rTicks: [0.5, 1.0], rDec: 1,
    sets: [ds('cygnss', bimonthly(2018 + 4 / 6, lpExtCygnss)), ds('giems', bimonthly(1992, lpExtGiems)), ds('modis', bimonthly(2000 + 1 / 6, lpExtModis)), ds('gage', bimonthly(1992, lpExtGage), 'y2')] },
  { top: 860, pad: 40, title: anomTitle, right: anomRight,
    y: [-0.135, 0.1415], yTicks: [-0.1, 0, 0.1], yDec: 1, r: [-0.376, 0.426], rTicks: [-0.25, 0, 0.25], rDec: 2,
    sets: [ds('giems', bimonthly(1992, lpAnomGiems)), ds('modis', bimonthly(2001, lpAnomModis)), ds('gage', bimonthly(1992, lpAnomGage), 'y2')] }
];

const groups = [['Lower Ob', 114.5], ['Mississippi', 357], ['Amazon', 600], ['La Plata', 842.5]];

const boxPlugin = {
  id: 'box',
  afterDatasetsDraw(chart) {
    const { ctx, chartArea: a } = chart;
    ctx.save();
    ctx.strokeStyle = '#000';
    ctx.lineWidth = 1.4;
    ctx.strokeRect(a.left, a.top, a.right - a.left, a.bottom - a.top);
    ctx.restore();
  }
};

const fmt = d => v => (v < 0 ? '\u2212' : '') + Math.abs(v).toFixed(d);
const tickGrid = { display: true, drawOnChartArea: false, drawTicks: true, tickLength: 5, color: '#000', lineWidth: 1.2 };

panels.forEach(p => {
  const cv = document.createElement('canvas');
  cv.width = 1052;
  cv.height = 121;
  cv.style.top = (p.top - 8) + 'px';
  document.body.appendChild(cv);

  new Chart(cv, {
    type: 'line',
    data: { datasets: p.sets },
    options: {
      responsive: false,
      animation: false,
      devicePixelRatio: 1,
      layout: { padding: { left: p.pad, right: 0, top: 8, bottom: 0 } },
      plugins: { legend: { display: false }, tooltip: { enabled: false } },
      elements: { point: { radius: 0 }, line: { tension: 0, borderJoinStyle: 'round' } },
      scales: {
        x: {
          type: 'linear', min: 1992, max: 2020 + 11 / 12,
          grid: tickGrid, border: { display: false },
          afterBuildTicks: s => { s.ticks = yearTicks.map(v => ({ value: v })); },
          ticks: { callback: v => String(v), font: { size: 12.5 }, padding: 6, maxRotation: 0, autoSkip: false },
          afterFit: s => { s.height = 26; }
        },
        y: {
          position: 'left', min: p.y[0], max: p.y[1],
          grid: tickGrid, border: { display: false },
          afterBuildTicks: s => { s.ticks = p.yTicks.map(v => ({ value: v })); },
          ticks: { callback: fmt(p.yDec), font: { size: 12.5 }, padding: 4, autoSkip: false },
          title: { display: true, text: p.title, font: { size: 12 }, padding: { top: 4, bottom: 4 } },
          afterFit: s => { s.width = 118 - p.pad; }
        },
        y2: {
          position: 'right', min: p.r[0], max: p.r[1],
          grid: tickGrid, border: { display: false },
          afterBuildTicks: s => { s.ticks = p.rTicks.map(v => ({ value: v })); },
          ticks: { mirror: true, padding: -9, callback: fmt(p.rDec), font: { size: 12.5 }, autoSkip: false },
          afterFit: s => { s.width = 35; }
        }
      }
    },
    plugins: [boxPlugin]
  });

  const rt = document.createElement('div');
  rt.className = 'rtitle';
  rt.style.top = (p.top + 43.5) + 'px';
  rt.innerHTML = p.right.join('<br>');
  document.body.appendChild(rt);

  if (p.glwd) {
    const g = document.createElement('div');
    g.className = 'glwd';
    g.style.top = (p.top - 13) + 'px';
    g.textContent = p.glwd;
    document.body.appendChild(g);
  }
});

groups.forEach(([name, cy]) => {
  const d = document.createElement('div');
  d.className = 'group';
  d.style.top = cy + 'px';
  d.textContent = name;
  document.body.appendChild(d);
});
</script>
</body>
</html>
